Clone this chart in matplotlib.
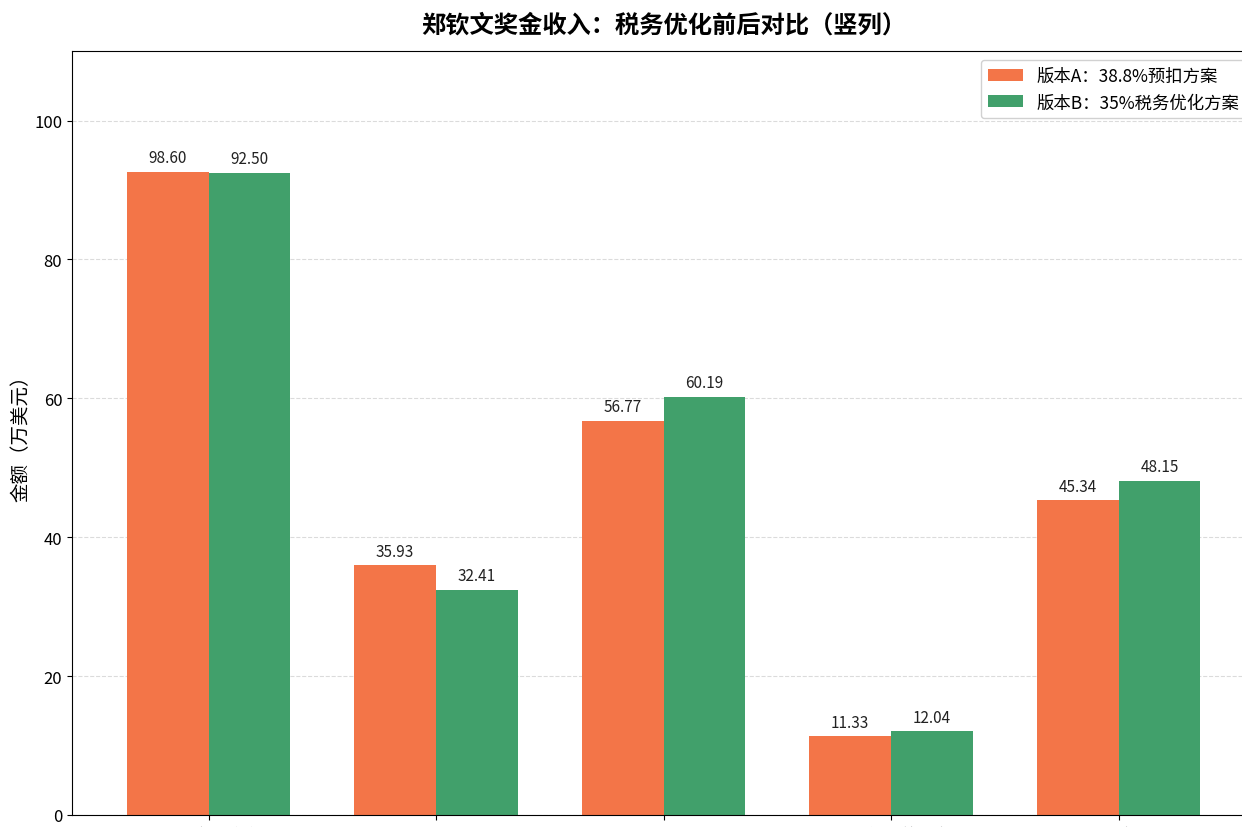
import matplotlib
matplotlib.use("Agg")
import matplotlib.pyplot as plt
import numpy as np

plt.rcParams['font.family'] = ['Noto Sans CJK SC', 'DejaVu Sans']
plt.rcParams['axes.unicode_minus'] = False

categories = ["2024赛季奖金", "澳网亚军奖金", "奥运会金牌奖励", "WTA年终总决赛", "其他赛事"]
series_names = ["版本A：38.8%预扣方案", "版本B：35%税务优化方案"]
a_heights = [92.6, 35.93, 56.77, 11.33, 45.34]
a_labels = ["98.60", "35.93", "56.77", "11.33", "45.34"]
b_heights = [92.50, 32.41, 60.19, 12.04, 48.15]
b_labels = ["92.50", "32.41", "60.19", "12.04", "48.15"]
y_ticks = [0, 20, 40, 60, 80, 100]

color_a = '#F37548'
color_b = '#41A06B'

fig = plt.figure(figsize=(12.42, 8.28), dpi=100)
ax = fig.add_axes([0.058, 0.0145, 0.9525, 0.9225])

x = np.arange(len(categories))
w = 0.36
bars_a = ax.bar(x - w / 2, a_heights, w, color=color_a, label=series_names[0], zorder=2)
bars_b = ax.bar(x + w / 2, b_heights, w, color=color_b, label=series_names[1], zorder=2)

for bars, labels in ((bars_a, a_labels), (bars_b, b_labels)):
    for bar, lab in zip(bars, labels):
        ax.annotate(lab, (bar.get_x() + bar.get_width() / 2, bar.get_height()),
                    xytext=(0, 4), textcoords='offset points',
                    ha='center', va='bottom', fontsize=11, color='#222222')

ax.set_xlim(-0.6, len(categories) - 0.4)
ax.set_ylim(0, 110)
ax.set_yticks(y_ticks)
ax.set_xticks(x)
ax.set_xticklabels(categories, fontsize=12)
ax.tick_params(axis='x', pad=5)
ax.tick_params(axis='y', labelsize=12)
ax.yaxis.grid(True, linestyle='--', color='#cccccc', alpha=0.7, zorder=0)
ax.set_axisbelow(True)
ax.set_ylabel("金额（万美元）", fontsize=14, labelpad=2)
ax.set_title("郑钦文奖金收入：税务优化前后对比（竖列）", fontsize=17.5, fontweight='bold', pad=14)
ax.legend(loc='upper right', fontsize=12.5, framealpha=0.9)

fig.savefig("out.png", dpi=100)
